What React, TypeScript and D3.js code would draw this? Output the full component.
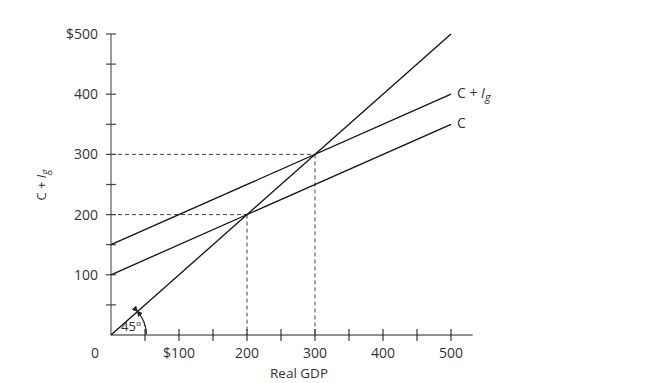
import React from "react";
import * as d3 from "d3";

const xTicks = [50, 100, 150, 200, 250, 300, 350, 400, 450, 500];
const xTickLabels = ["$100", "200", "300", "400", "500"];
const xLabelValues = [100, 200, 300, 400, 500];
const yTicks = [50, 100, 150, 200, 250, 300, 350, 400, 450, 500];
const yLabelValues = [100, 200, 300, 400, 500];
const yTickLabels = ["100", "200", "300", "400", "$500"];

const lineFortyFive = [[0, 0], [500, 500]];
const lineC = [[0, 100], [500, 350]];
const lineCIg = [[0, 150], [500, 400]];
const equilibria = [[200, 200], [300, 300]];

export default function App() {
  const W = 653, H = 383;
  const x = d3.scaleLinear().domain([0, 500]).range([111, 451]);
  const y = d3.scaleLinear().domain([0, 500]).range([335, 34]);
  const line = d3.line<number[]>().x(d => x(d[0])).y(d => y(d[1]));
  const font = "'Open Sans', 'Liberation Sans', sans-serif";
  const tc = "#333";
  const r = x(52) - x(0);
  const arc = d3.arc()({ innerRadius: r, outerRadius: r, startAngle: Math.PI / 4 + 0.05, endAngle: Math.PI / 2 - 0.03 }) as string;
  return (
    <svg width={W} height={H} style={{ position: "absolute", left: 0, top: 0 }} fontFamily={font}>
      <defs>
        <marker id="ah" viewBox="0 0 6 6" refX="5" refY="3" markerWidth="6" markerHeight="6" orient="auto-start-reverse" markerUnits="userSpaceOnUse">
          <path d="M0,0 L6,3 L0,6 z" fill="#222" />
        </marker>
      </defs>
      <rect width={W} height={H} fill="#fff" />
      {equilibria.map(([a, b], i) => (
        <g key={i} stroke="#444" strokeWidth={1} strokeDasharray="4,3" fill="none">
          <line x1={x(0)} x2={x(a)} y1={y(b)} y2={y(b)} />
          <line x1={x(a)} x2={x(a)} y1={y(b)} y2={y(0)} />
        </g>
      ))}
      <line x1={x(0)} x2={x(0)} y1={y(0)} y2={y(500)} stroke="#666" strokeWidth={1.3} />
      <line x1={x(0)} x2={x(532)} y1={y(0)} y2={y(0)} stroke="#222" strokeWidth={1.2} />
      {yTicks.map(t => (
        <line key={t} x1={x(0) - 5} x2={x(0) + 5} y1={y(t)} y2={y(t)} stroke="#444" strokeWidth={1.2} />
      ))}
      {xTicks.map(t => (
        <line key={t} x1={x(t)} x2={x(t)} y1={y(0) - 6} y2={y(0) + 6} stroke="#222" strokeWidth={1.1} />
      ))}
      {yLabelValues.map((v, i) => (
        <text key={v} x={98} y={y(v) + 5} textAnchor="end" fontSize={14} fill={tc}>{yTickLabels[i]}</text>
      ))}
      <text x={95} y={358} textAnchor="middle" fontSize={14} fill={tc}>0</text>
      {xLabelValues.map((v, i) => (
        <text key={v} x={x(v)} y={358} textAnchor="middle" fontSize={14} fill={tc}>{xTickLabels[i]}</text>
      ))}
      <text x={x(275) + 1} y={378} textAnchor="middle" fontSize={13.5} fill={tc}>Real GDP</text>
      <text transform={`translate(46,185) rotate(-90)`} textAnchor="middle" fontSize={13} fill={tc}>
        C + <tspan fontStyle="italic">I</tspan><tspan fontStyle="italic" fontSize={10} dy={3}>g</tspan>
      </text>
      <path d={line(lineFortyFive as any) as string} stroke="#111" strokeWidth={1.3} fill="none" />
      <path d={line(lineC as any) as string} stroke="#111" strokeWidth={1.3} fill="none" />
      <path d={line(lineCIg as any) as string} stroke="#111" strokeWidth={1.3} fill="none" />
      <text x={457} y={y(400) + 4} fontSize={14} fill={tc}>
        C + <tspan fontStyle="italic">I</tspan><tspan fontStyle="italic" fontSize={11} dy={3}>g</tspan>
      </text>
      <text x={457} y={y(350) + 4} fontSize={14} fill={tc}>C</text>
      <path d={arc} transform={`translate(${x(0)},${y(0)})`} stroke="#222" strokeWidth={1} fill="none"
        markerStart="url(#ah)" markerEnd="url(#ah)" />
      <text x={121} y={331} fontSize={13} fill={tc}>45°</text>
    </svg>
  );
}
